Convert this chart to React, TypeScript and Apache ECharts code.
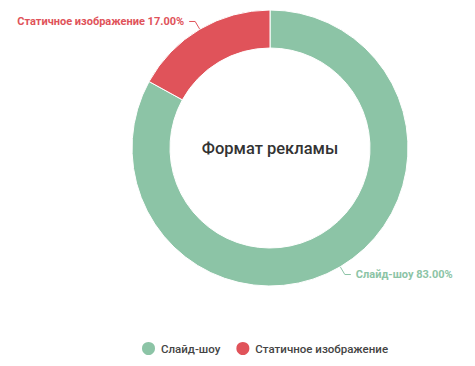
import React, { useEffect, useRef } from "react";
import * as echarts from "echarts";

const categories = ["Слайд-шоу", "Статичное изображение"];
const values = [83, 17];
const colors = ["#8cc4a6", "#e0535a"];
const title = "Формат рекламы";

export default function App() {
  const ref = useRef<HTMLDivElement>(null);
  useEffect(() => {
    const chart = echarts.init(ref.current!, null, { renderer: "svg" });
    chart.setOption({
      animation: false,
      color: colors,
      graphic: [
        {
          type: "text",
          x: 270,
          y: 148,
          style: {
            text: title,
            align: "center",
            verticalAlign: "middle",
            fontFamily: "Roboto",
            fontSize: 16.5,
            fontWeight: 500,
            fill: "#333",
          },
        },
      ],
      legend: {
        bottom: 4,
        left: 135,
        icon: "circle",
        itemWidth: 15,
        itemHeight: 15,
        itemGap: 14,
        textStyle: { fontFamily: "Roboto", fontSize: 11.5, color: "#444", fontWeight: 500 },
        data: categories,
      },
      series: [
        {
          type: "pie",
          center: [270, 148],
          radius: [100, 138],
          startAngle: 90,
          clockwise: true,
          data: categories.map((c, i) => ({ name: c, value: values[i] })),
          itemStyle: { borderColor: "#fff", borderWidth: 1 },
          label: {
            formatter: (p: any) => `${p.name} ${p.value.toFixed(2)}%`,
            fontFamily: "Roboto",
            fontSize: 11,
            fontWeight: "bold",
            color: "inherit",
          },
          labelLine: { length: 9, length2: 6, lineStyle: { width: 1 } },
        },
      ],
    });
    return () => chart.dispose();
  }, []);
  return (
    <div
      ref={ref}
      style={{ position: "fixed", left: 0, top: 0, width: 475, height: 366, background: "#fff" }}
    />
  );
}
